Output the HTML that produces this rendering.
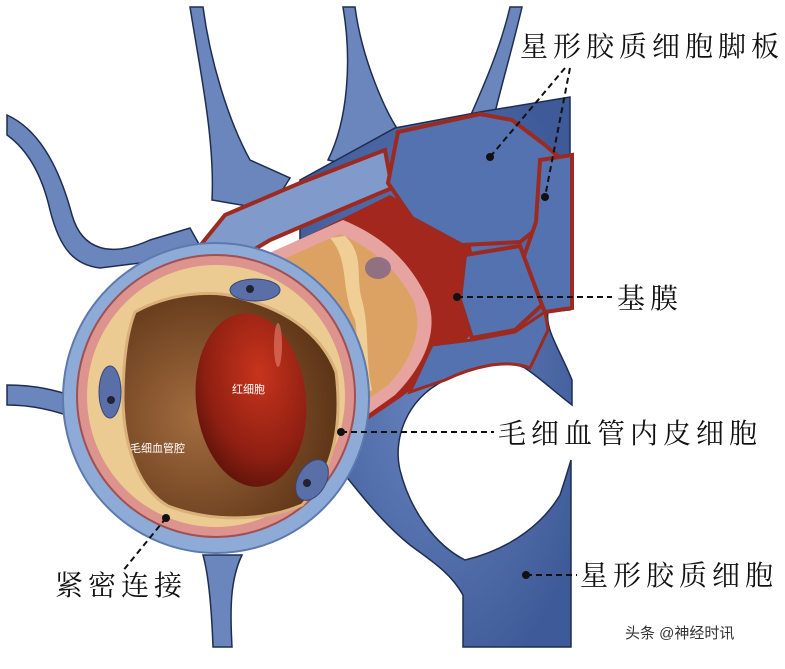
<!DOCTYPE html><html><head><meta charset="utf-8"><style>
body{margin:0;background:#fff;width:785px;height:664px;overflow:hidden}
.t{font-family:"Liberation Serif","Noto Serif CJK SC",serif;font-size:28px;letter-spacing:5px;fill:#111}
</style></head><body>
<svg width="785" height="664" viewBox="0 0 785 664" xmlns="http://www.w3.org/2000/svg">
<defs>
<radialGradient id="rbc" cx="0.6" cy="0.35" r="0.7"><stop offset="0" stop-color="#c8341c"/><stop offset="0.7" stop-color="#8e1f12"/><stop offset="1" stop-color="#5e130a"/></radialGradient>
<radialGradient id="lum" cx="0.35" cy="0.55" r="0.65"><stop offset="0" stop-color="#a36c3f"/><stop offset="1" stop-color="#5e3517"/></radialGradient>
<radialGradient id="bl" cx="0.5" cy="0.5" r="0.6"><stop offset="0" stop-color="#6a86c0"/><stop offset="1" stop-color="#3f5a98"/></radialGradient>
</defs>
<g fill="#6a86bd" stroke="#1f2d50" stroke-width="1.5">
<path d="M190,7 L203,7 C210,60 228,120 250,160 L290,178 L270,210 L212,200 C215,140 200,70 190,7Z"/>
<path d="M7,115 C40,130 60,170 72,215 C82,250 110,258 150,240 L190,228 L205,255 L100,268 C75,265 60,250 50,210 C42,175 28,150 7,135Z"/>
<path d="M343,7 L355,7 C362,60 385,110 398,130 L362,168 L328,160 C348,120 352,60 343,7Z"/>
<path d="M510,7 L522,7 C512,50 500,90 492,125 L462,135 C482,90 500,50 510,7Z"/>
<path d="M7,385 C40,385 60,392 80,398 L80,420 C55,410 30,405 7,405Z"/>
<path d="M203,555 C210,580 212,620 213,647 L232,647 C230,610 230,580 242,555Z"/>
</g>
<path d="M300,180 L395,128 L480,112 L570,97 L570,310 L548,312 C545,330 560,350 572,380 L572,405 C555,392 540,378 525,368 C505,358 470,368 445,380 C405,400 393,440 400,470 C410,510 435,545 465,560 C515,548 545,520 560,495 C565,480 568,470 571,460 L571,647 L463,647 L463,595 C450,572 430,560 410,545 C385,525 365,500 345,475 L320,430 L300,300 Z" fill="url(#bl)" stroke="#1f2d50" stroke-width="1.5"/>
<path d="M262,258 L390,195 L470,240 L482,320 L450,360 L400,398 L360,425 L330,300 Z" fill="#a3271d"/>
<path d="M258,258 L343,220 C380,235 410,260 428,300 C440,335 420,370 395,395 L360,420 L330,330 Z" fill="#e6a3a0"/>
<path d="M268,266 L340,234 C372,248 398,270 414,302 C424,332 410,362 388,385 L360,405 L335,330 Z" fill="#dba263"/>
<path d="M330,238 C350,260 340,290 355,320 C360,345 350,380 355,400 L372,390 C365,360 370,330 362,300 C355,275 365,255 345,236Z" fill="#efcf95"/>
<ellipse cx="378" cy="268" rx="13" ry="11" fill="#7d6488" opacity="0.8"/>
<g fill="#5572b0" stroke="#9c2a20" stroke-width="4">
<path d="M195,252 L225,215 L300,183 L385,150 L392,188 L340,210 L270,240 L240,258Z" fill="#7f9acb"/>
<path d="M388,183 L398,132 L480,114 L512,120 L545,145 L560,158 L545,222 L520,242 L462,245 L412,218Z"/>
<path d="M540,160 L572,155 L572,308 L545,312 L522,262 L536,222Z"/>
<path d="M465,255 L520,246 L542,305 L515,330 L472,338 L460,300Z"/>
<path d="M432,345 L472,340 L515,332 L545,312 L548,330 L530,368 C505,358 470,368 445,380 L410,392Z" stroke-width="3"/>
</g>
<ellipse cx="216" cy="398" rx="153" ry="155" fill="#8eaad6" stroke="#5d79ad" stroke-width="2"/>
<ellipse cx="216" cy="396" rx="139" ry="141" fill="#dd938e" stroke="#a05050" stroke-width="2"/>
<ellipse cx="216" cy="396" rx="129" ry="131" fill="#ebcb92"/>
<path d="M135,312 C165,295 210,288 240,298 C280,308 320,330 336,372 C342,420 336,470 302,505 C262,522 210,522 168,506 C140,490 124,450 123,400 C123,360 127,332 135,312Z" fill="url(#lum)" stroke="#d9b07a" stroke-width="3"/>
<ellipse cx="251" cy="400" rx="55" ry="87" transform="rotate(-6 251 400)" fill="url(#rbc)"/>
<ellipse cx="278" cy="345" rx="4" ry="22" fill="#e88070" opacity="0.6"/>
<ellipse cx="255" cy="290" rx="25" ry="11" fill="#5a6fa8" stroke="#34477a"/>
<circle cx="250" cy="289" r="4" fill="#223"/>
<ellipse cx="110" cy="392" rx="11" ry="26" fill="#5a6fa8" stroke="#34477a"/>
<circle cx="111" cy="400" r="4" fill="#223"/>
<ellipse cx="312" cy="480" rx="14" ry="22" transform="rotate(30 312 480)" fill="#5a6fa8" stroke="#34477a"/>
<circle cx="307" cy="483" r="4" fill="#223"/>
<text x="232" y="393" font-family="Liberation Sans,Noto Sans CJK SC,sans-serif" font-size="11" fill="#fff">红细胞</text>
<text x="130" y="452" font-family="Liberation Sans,Noto Sans CJK SC,sans-serif" font-size="11" fill="#fff">毛细血管腔</text>
<g stroke="#111" stroke-width="2" stroke-dasharray="6,4" fill="none">
<path d="M565,68 L490,157"/><path d="M570,68 L545,197"/>
<path d="M457,297 L612,297"/>
<path d="M341,432 L494,432"/>
<path d="M166,518 L122,572"/>
<path d="M526,575 L577,575"/>
</g>
<g fill="#111"><circle cx="490" cy="157" r="4"/><circle cx="545" cy="197" r="4"/><circle cx="457" cy="297" r="4"/><circle cx="341" cy="432" r="4"/><circle cx="166" cy="518" r="4"/><circle cx="526" cy="575" r="4"/></g>
<text class="t" x="520" y="56">星形胶质细胞脚板</text>
<text class="t" x="617" y="308">基膜</text>
<text class="t" x="498" y="443">毛细血管内皮细胞</text>
<text class="t" x="55" y="595">紧密连接</text>
<text class="t" x="580" y="585">星形胶质细胞</text>
<text x="625" y="638" font-family="Liberation Sans,Noto Sans CJK SC,sans-serif" font-size="15" fill="#333">头条 @神经时讯</text>
</svg>
</body></html>
